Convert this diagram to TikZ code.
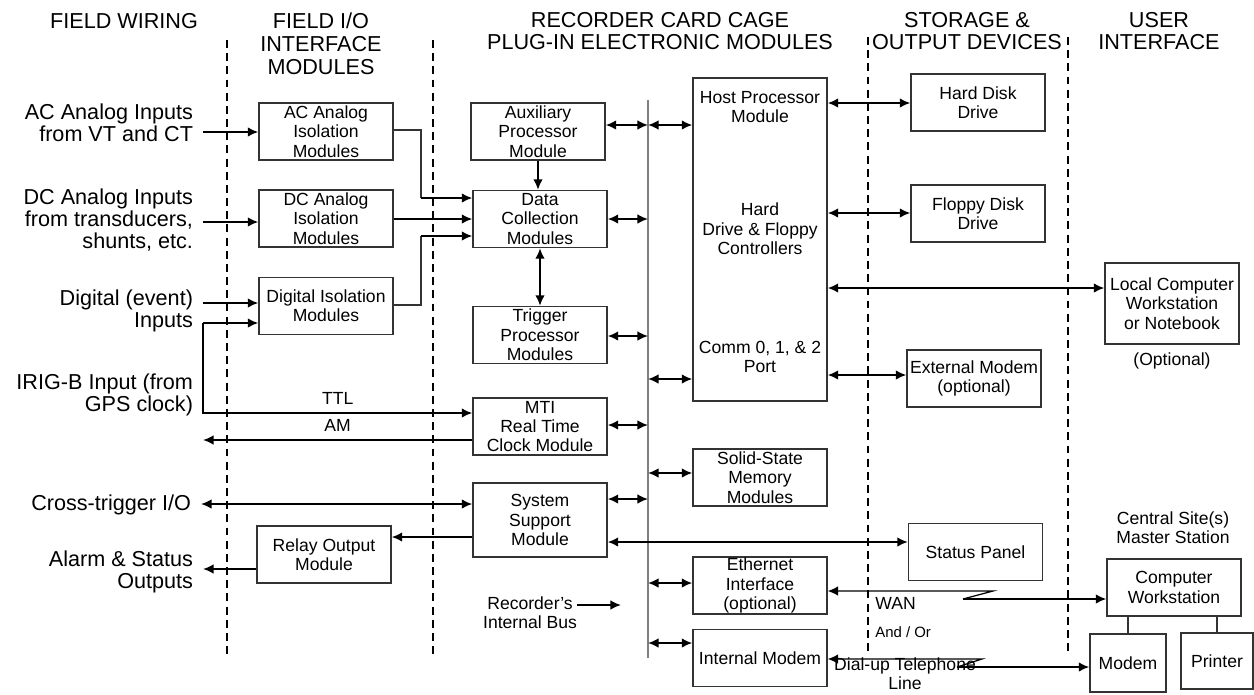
\documentclass[tikz,border=0pt]{standalone}
\usepackage{fontspec}
\setmainfont{Liberation Sans}
\usetikzlibrary{arrows.meta, positioning}

\begin{document}
\begin{tikzpicture}[
  x=0.02cm, y=-0.02cm,
  mod/.style={
    rectangle, draw=black!80, line width=0.8pt,
    minimum width=2.68cm, minimum height=1.14cm,
    inner sep=0pt, align=center,
    font=\fontsize{10}{11}\selectfont},
  hdr/.style={align=center, inner sep=0pt, font=\fontsize{12.3}{13}\selectfont},
  lbl/.style={anchor=east, align=right, inner sep=0pt, outer sep=0.2cm,
    font=\fontsize{12.3}{12.6}\selectfont},
  txt/.style={align=center, inner sep=0pt, font=\fontsize{10}{11}\selectfont},
  arr/.style={-{Latex[length=6pt,width=5.5pt]}, line width=1.1pt},
  dbl/.style={{Latex[length=6pt,width=5.5pt]}-{Latex[length=6pt,width=5.5pt]}, line width=1.1pt},
  wire/.style={line width=0.8pt, draw=black!80},
  divider/.style={line width=1pt, dash pattern=on 4.5pt off 3pt},
  bus/.style={draw=gray, line width=0.9pt}
]
\useasboundingbox (0,0) rectangle (1254,694);

%% Column headings
\node[hdr] (hwire)  at (124,21)  {FIELD WIRING};
\node[hdr] (hfio)   at (321,44)  {FIELD I/O\\INTERFACE\\MODULES};
\node[hdr] (hcage)  at (660,31)  {RECORDER CARD CAGE\\PLUG-IN ELECTRONIC MODULES};
\node[hdr] (hstore) at (967,31)  {STORAGE \&\\OUTPUT DEVICES};
\node[hdr] (huser)  at (1159,31) {USER\\INTERFACE};

%% Dashed column dividers
\coordinate (d1t) at (227,40);  \coordinate (d1b) at (227,655);
\coordinate (d2t) at (433,40);  \coordinate (d2b) at (433,655);
\coordinate (d3t) at (868,37);  \coordinate (d3b) at (868,653);
\coordinate (d4t) at (1068,37); \coordinate (d4b) at (1068,653);
\draw[divider] (d1t) -- (d1b);
\draw[divider] (d2t) -- (d2b);
\draw[divider] (d3t) -- (d3b);
\draw[divider] (d4t) -- (d4b);

%% Field wiring labels
\node[lbl] (acin)  at (203,123) {AC Analog Inputs\\from VT and CT};
\node[lbl] (dcin)  at (203,220) {DC Analog Inputs\\from transducers,\\shunts, etc.};
\node[lbl] (digin) at (203,311) {Digital (event)\\Inputs};
\node[lbl] (irig)  at (203,395) {IRIG-B Input (from\\GPS clock)};
\node[lbl] (xtrig) at (201,505) {Cross-trigger I/O};
\node[lbl] (alarm) at (203,572) {Alarm \& Status\\Outputs};

%% Field I/O modules
\node[mod] (acmod)  at (326,131.5) {AC Analog\\Isolation\\Modules};
\node[mod] (dcmod)  at (326,218.5) {DC Analog\\Isolation\\Modules};
\node[mod] (digmod) at (326,306)   {Digital Isolation\\Modules};
\node[mod] (relay)  at (324,554.5) {Relay Output\\Module};

%% Card cage modules
\node[mod] (aux)    at (538,131.5) {Auxiliary\\Processor\\Module};
\node[mod] (dcoll)  at (540,219)   {Data\\Collection\\Modules};
\node[mod] (trig)   at (540,335)   {Trigger\\Processor\\Modules};
\node[mod] (mti)    at (540,426.5) {MTI\\Real Time\\Clock Module};
\node[mod, minimum height=1.48cm] (syssup) at (540,520) {System\\Support\\Module};

\node[mod, minimum height=6.46cm] (host) at (760,239.5) {};
\node[txt] (hostproc) at (760,107) {Host Processor\\Module};
\node[txt] (hostctl)  at (760,229) {Hard\\Drive \& Floppy\\Controllers};
\node[txt] (hostcomm) at (760,357) {Comm 0, 1, \& 2\\Port};
\node[mod] (ssm)    at (760,477.5) {Solid-State\\Memory\\Modules};
\node[mod] (eth)    at (760,585.5) {Ethernet\\Interface\\(optional)};
\node[mod] (imodem) at (760,658)   {Internal Modem};

\node[txt] (buslbl) at (530,613) {Recorder's\\Internal Bus};

%% Storage and output devices
\node[mod] (hdd)      at (978,102.5) {Hard Disk\\Drive};
\node[mod] (fdd)      at (978,213.5) {Floppy Disk\\Drive};
\node[mod] (extmodem) at (974,378.5) {External Modem\\(optional)};
\node[mod] (status)   at (975.5,552) {Status Panel};

%% User interface
\node[mod, minimum height=1.62cm] (local) at (1172,303.5) {Local Computer\\Workstation\\or Notebook};
\node[txt, below=0.15cm of local] (localopt) {(Optional)};
\node[txt] (central) at (1173,528) {Central Site(s)\\Master Station};
\node[mod] (cws) at (1174,587.5) {Computer\\Workstation};
\node[mod, minimum width=1.52cm, minimum height=1.16cm] (cmodem)  at (1128,663) {Modem};
\node[mod, minimum width=1.44cm, minimum height=1.12cm] (printer) at (1217,661) {Printer};

\node[txt, anchor=west] (wan) at (875,603) {WAN};
\node[txt, anchor=west, font=\fontsize{8.5}{10}\selectfont] (andor) at (875,632) {And / Or};
\node[txt] (dial) at (905,674) {Dial-up Telephone\\Line};

%% Internal bus
\coordinate (bustop) at (648,100);
\coordinate (busbot) at (648,658);
\draw[bus] (bustop) -- (busbot);
\coordinate (bustip) at (621,605);
\draw[arr] (buslbl.east |- 0,605) -- (bustip);

%% Field wiring arrows
\draw[arr] (acin.east |- 0,132) -- (acmod.west |- 0,132);
\draw[arr] (dcin.east |- 0,222) -- (dcmod.west |- 0,222);
\draw[arr] (digin.east |- 0,303) -- (digmod.west |- 0,303);
\draw[arr] (irig.east |- 0,323) -- (digmod.west |- 0,323);
\draw[arr] (irig.east |- 0,323) |- (mti.west |- 0,413)
  node[pos=0.75, above=1pt, font=\fontsize{10}{11}\selectfont] {TTL};
\draw[arr] (mti.west |- 0,440) -- (irig.east |- 0,440)
  node[midway, above=1pt, font=\fontsize{10}{11}\selectfont] {AM};
\draw[dbl] (xtrig.east |- 0,504) -- (syssup.west |- 0,504);
\draw[arr] (syssup.west |- 0,537) -- (relay.east |- 0,537);
\draw[arr] (relay.west |- 0,569) -- (alarm.east |- 0,569);

%% Isolation modules to data collection
\coordinate (acbend)  at (421,198);
\coordinate (digbend) at (421,236);
\draw[wire] (acmod.east |- 0,130) -| (acbend);
\draw[arr] (acbend) -- (dcoll.west |- acbend);
\draw[arr] (dcmod.east |- 0,219) -- (dcoll.west |- 0,219);
\draw[wire] (digmod.east |- 0,305) -| (digbend);
\draw[arr] (digbend) -- (dcoll.west |- digbend);

\draw[arr] (aux.south) -- (aux.south |- dcoll.north);
\draw[dbl] (dcoll.south) -- (trig.north);

%% Bus connections
\draw[dbl] (aux.east |- 0,125)    -- (bustop |- 0,125);
\draw[dbl] (bustop |- 0,125)      -- (host.west |- 0,125);
\draw[dbl] (dcoll.east |- 0,219)  -- (bustop |- 0,219);
\draw[dbl] (trig.east |- 0,336)   -- (bustop |- 0,336);
\draw[dbl] (bustop |- 0,379)      -- (host.west |- 0,379);
\draw[dbl] (mti.east |- 0,425)    -- (bustop |- 0,425);
\draw[dbl] (bustop |- 0,473)      -- (ssm.west |- 0,473);
\draw[dbl] (syssup.east |- 0,499) -- (bustop |- 0,499);
\draw[dbl] (bustop |- 0,583)      -- (eth.west |- 0,583);
\draw[dbl] (bustop |- 0,643)      -- (imodem.west |- 0,643);

%% Host to devices
\draw[dbl] (host.east |- 0,103) -- (hdd.west |- 0,103);
\draw[dbl] (host.east |- 0,213) -- (fdd.west |- 0,213);
\draw[dbl] (host.east |- 0,288) -- (local.west |- 0,288);
\draw[dbl] (host.east |- 0,375) -- (extmodem.west |- 0,375);
\draw[dbl] (syssup.east |- 0,542) -- (status.west |- 0,542);

%% Remote links
\coordinate (wana) at (993,591);
\coordinate (wanb) at (963,599);
\draw[-{Latex[length=6pt,width=5.5pt]}, line width=0.7pt] (wanb) -- (wana) -- (eth.east |- wana);
\draw[arr] (wanb) -- (cws.west |- wanb);
\coordinate (diala) at (982,659);
\coordinate (dialb) at (957,667);
\draw[-{Latex[length=6pt,width=5.5pt]}, line width=0.7pt] (dialb) -- (diala) -- (imodem.east |- diala);
\draw[arr] (dialb) -- (cmodem.west |- dialb);

\draw[wire] (cmodem.north) -- (cmodem.north |- cws.south);
\draw[wire] (printer.north) -- (printer.north |- cws.south);

\end{tikzpicture}
\end{document}
